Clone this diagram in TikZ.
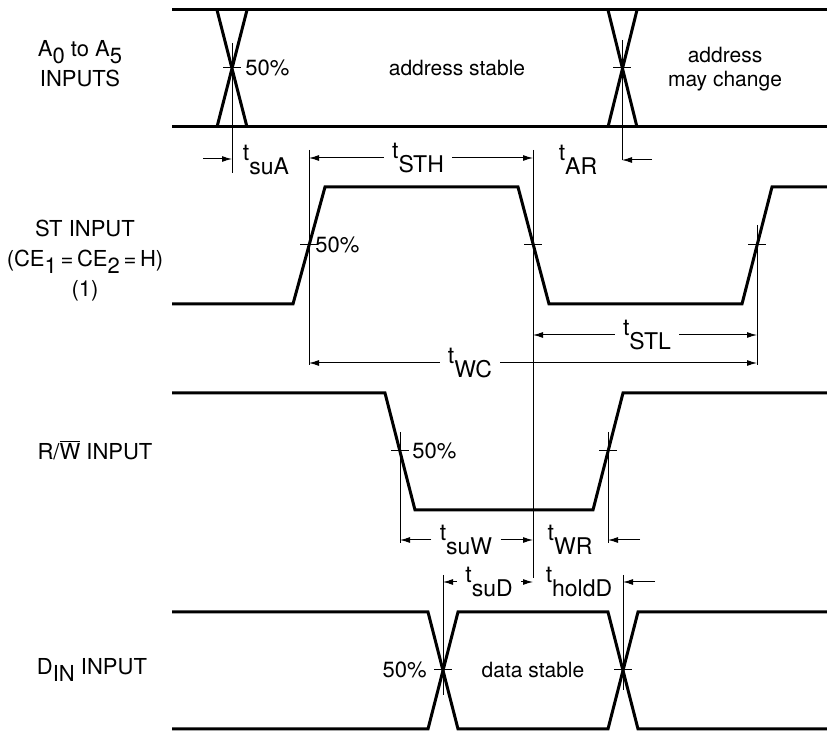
\documentclass[tikz,border=0pt]{standalone}
\usepackage{fontspec}
\setmainfont{TeX Gyre Heros}
\usetikzlibrary{arrows.meta,positioning}
\tikzset{
      sigline/.style={line width=1.5pt, line join=miter},
      refline/.style={line width=0.5pt},
      dimarrow/.style={line width=0.5pt, -{Latex[length=5pt,width=3pt]}},
      siglabel/.style={align=center, inner sep=0pt, font=\fontsize{11}{15}\selectfont},
      textlabel/.style={align=center, inner sep=0pt, font=\fontsize{10.5}{12}\selectfont},
      dimlabel/.style={inner sep=4pt, font=\fontsize{11.5}{12}\selectfont}
    }
\newcommand{\tsub}[1]{\raisebox{0.75ex}{t}\raisebox{-0.4ex}{#1}}
\newcommand{\lsub}[1]{\raisebox{-0.6ex}{#1}}
\newcommand{\ovl}[1]{$\overline{\hbox{#1}}$}
\begin{document}
\begin{tikzpicture}[x=0.5pt,y=-0.5pt]
    \useasboundingbox (0,0) rectangle (827,733);
    \node[siglabel] (inA) at (80,64) {A\lsub{0} to A\lsub{5}\\INPUTS};
    \node[siglabel] (inST) at (85,261) {ST INPUT\\(CE\lsub{1}\,=\,CE\lsub{2}\,=\,H)\\(1)};
    \node[siglabel] (inRW) at (95,450) {R/\ovl{W} INPUT};
    \node[siglabel] (inD) at (92,670) {D\lsub{IN} INPUT};
    \draw[sigline] (172,10) -- (827,10);
    \draw[sigline] (172,127) -- (827,127);
    \draw[sigline] (217,10) -- (247,127) (247,10) -- (217,127);
    \draw[sigline] (608,10) -- (637,127) (637,10) -- (608,127);
    \draw[sigline] (172,304) -- (293,304) -- (325,187) -- (518,187) -- (549,304) -- (742,304) -- (772,187) -- (827,187);
    \draw[sigline] (172,393) -- (385,393) -- (415,510) -- (593,510) -- (623,393) -- (827,393);
    \draw[sigline] (172,612) -- (428,612) -- (458,729) -- (608,729) -- (638,612) -- (827,612);
    \draw[sigline] (172,729) -- (428,729) -- (458,612) -- (608,612) -- (638,729) -- (827,729);
    \node[textlabel] (stable) at (457,68) {address stable};
    \node[textlabel] (change) at (725,69) {address\\may change};
    \node[textlabel] (dstable) at (533,670) {data stable};
    \coordinate (vA0) at (232,43);   \coordinate (vA0e) at (232,173);
    \coordinate (vA1) at (622,40);   \coordinate (vA1e) at (622,160);
    \coordinate (vST0) at (309,150); \coordinate (vST0e) at (309,365);
    \coordinate (vST1) at (533,150); \coordinate (vST1e) at (533,578);
    \coordinate (vST2) at (757,225); \coordinate (vST2e) at (757,365);
    \coordinate (vRW0) at (400,432); \coordinate (vRW0e) at (400,543);
    \coordinate (vRW1) at (608,432); \coordinate (vRW1e) at (608,543);
    \coordinate (vD0) at (443,575);  \coordinate (vD0e) at (443,695);
    \coordinate (vD1) at (623,575);  \coordinate (vD1e) at (623,690);
    \foreach \v in {vA0,vA1,vST0,vST1,vST2,vRW0,vRW1,vD0,vD1}
      \draw[refline] (\v) -- (\v e);
    \foreach \x/\y in {232/68, 622/68, 309/245, 533/245, 757/245, 400/451, 608/451, 443/670, 623/670}
      \draw[refline] (\x-9,\y) -- (\x+9,\y);
    \node[siglabel, anchor=west] (p0) at (245,68) {50\%};
    \node[siglabel, anchor=west] (p1) at (315,245) {50\%};
    \node[siglabel, anchor=west] (p2) at (412,451) {50\%};
    \node[siglabel, anchor=east] (p3) at (427,670) {50\%};
    \node[dimlabel] (tsuA) at (266,160) {\tsub{suA}};
    \node[dimlabel] (tSTH) at (418,158) {\tsub{STH}};
    \node[dimlabel] (tAR) at (578,160) {\tsub{AR}};
    \node[dimlabel] (tSTL) at (647,335) {\tsub{STL}};
    \node[dimlabel] (tWC) at (470,363) {\tsub{WC}};
    \node[dimlabel] (tsuW) at (466,540) {\tsub{suW}};
    \node[dimlabel] (tWR) at (570,540) {\tsub{WR}};
    \node[dimlabel] (tsuD) at (489,582) {\tsub{suD}};
    \node[dimlabel] (tholdD) at (579,582) {\tsub{holdD}};
    \coordinate (suAin) at (203,159);
    \coordinate (ARin) at (652,160);
    \coordinate (WRin) at (640,540);
    \coordinate (holdDin) at (655,582);
    \draw[dimarrow] (suAin) -- (vA0 |- suAin);
    \draw[dimarrow] (tSTH.west) -- (vST0 |- tSTH);
    \draw[dimarrow] (tSTH.east) -- (vST1 |- tSTH);
    \draw[dimarrow] (ARin) -- (vA1 |- ARin);
    \draw[dimarrow] (tSTL.west) -- (vST1 |- tSTL);
    \draw[dimarrow] (tSTL.east) -- (vST2 |- tSTL);
    \draw[dimarrow] (tWC.west) -- (vST0 |- tWC);
    \draw[dimarrow] (tWC.east) -- (vST2 |- tWC);
    \draw[dimarrow] (tsuW.west) -- (vRW0 |- tsuW);
    \draw[dimarrow] (tsuW.east) -- (vST1 |- tsuW);
    \draw[dimarrow] (WRin) -- (vRW1 |- WRin);
    \draw[dimarrow] (tsuD.west) -- (vD0 |- tsuD);
    \draw[dimarrow] (tsuD.east) -- (vST1 |- tsuD);
    \draw[dimarrow] (holdDin) -- (vD1 |- holdDin);
    \end{tikzpicture}
\end{document}
